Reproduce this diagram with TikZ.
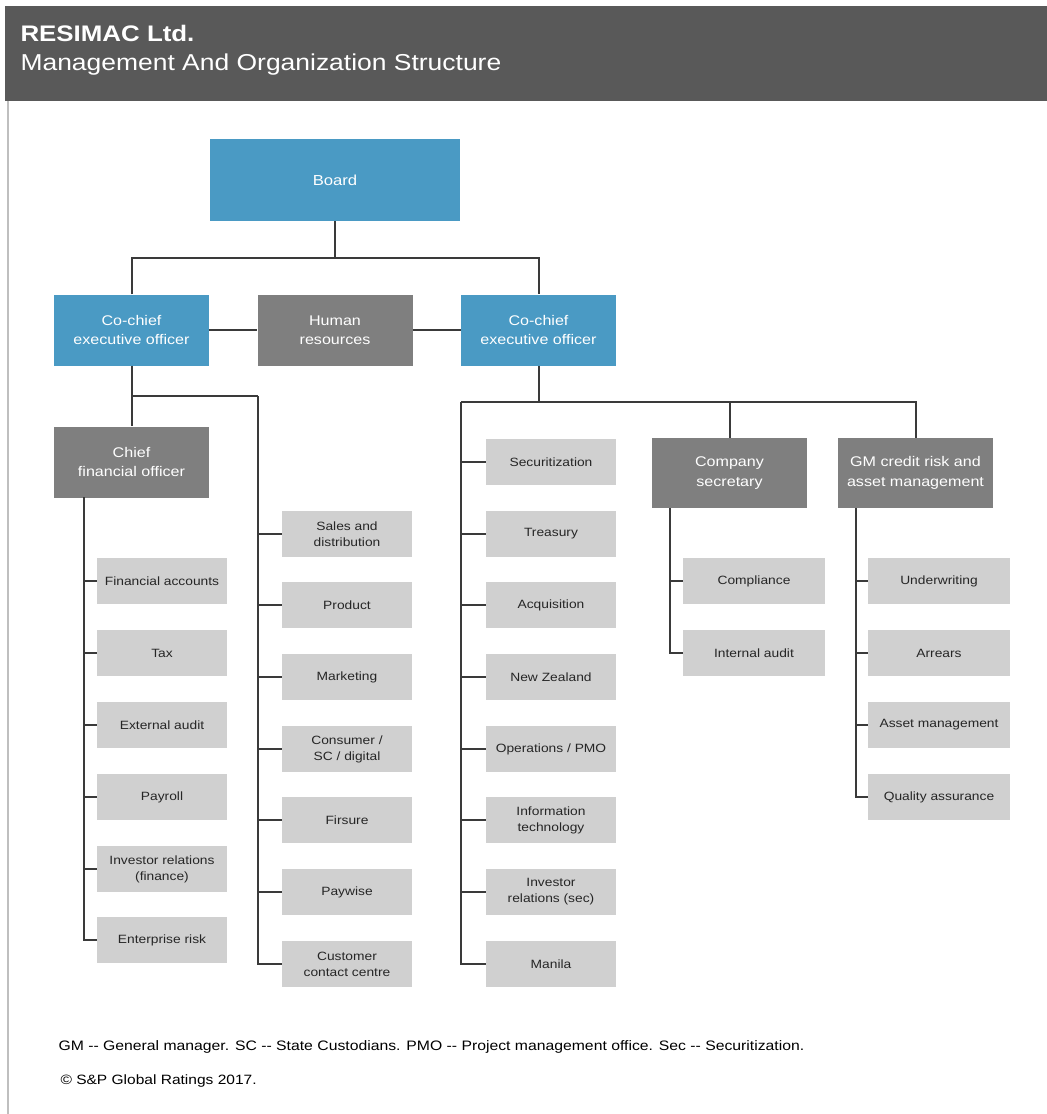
\documentclass[tikz,border=0pt]{standalone}
\usepackage{fontspec}
\setmainfont{Liberation Sans}[FakeStretch=1.15]

\definecolor{boardblue}{HTML}{4A9AC4}
\definecolor{darkbox}{HTML}{7F7F7F}
\definecolor{lightbox}{HTML}{D0D0D0}
\definecolor{headgray}{HTML}{595959}
\definecolor{linegray}{HTML}{3A3A3A}

\begin{document}
\begin{tikzpicture}[
    x=1pt, y=-1pt,
    topbox/.style={
        rectangle,
        fill=boardblue,
        text=white,
        align=center,
        inner sep=0pt,
        minimum width=155pt,
        minimum height=71pt,
        font=\fontsize{14}{19}\selectfont,
    },
    headbox/.style={
        topbox,
        fill=darkbox,
    },
    unitbox/.style={
        rectangle,
        fill=lightbox,
        text=black!85,
        align=center,
        inner sep=0pt,
        minimum width=130pt,
        minimum height=46pt,
        font=\fontsize{12}{16}\selectfont,
    },
    edge/.style={
        line width=2pt,
        draw=linegray
    }
]
    \useasboundingbox (0,0) rectangle (1047,1114);

    % header band
    \fill[headgray] (5,6) rectangle (1047,101);
    \draw[gray!50, line width=1.5pt] (8,101) -- (8,1114);
    \node[anchor=west, text=white, font=\bfseries\fontsize{22.5}{26}\selectfont] (title) at (17,33) {RESIMAC Ltd.};
    \node[anchor=west, text=white, font=\fontsize{23}{26}\selectfont] (subtitle) at (17,65) {Management And Organization Structure};

    % top levels
    \node[topbox, minimum width=250pt, minimum height=82pt, font=\fontsize{14.5}{18}\selectfont] (board) at (335,180) {Board};

    \node[topbox] (ceoL) at (131.5,330) {Co-chief\\executive officer};
    \node[headbox] (hr) at (335,330) {Human\\resources};
    \node[topbox] (ceoR) at (538.5,330) {Co-chief\\executive officer};

    \node[headbox] (cfo) at (131.5,462) {Chief\\financial officer};
    \node[headbox, minimum height=70pt, font=\fontsize{14}{20}\selectfont] (cosec) at (729.5,473) {Company\\secretary};
    \node[headbox, minimum height=70pt, font=\fontsize{14}{20}\selectfont] (gm) at (915.5,473) {GM credit risk and\\asset management};

    % finance units
    \node[unitbox] (fin) at (162,581) {Financial accounts};
    \node[unitbox] (tax) at (162,653) {Tax};
    \node[unitbox] (extaudit) at (162,725) {External audit};
    \node[unitbox] (payroll) at (162,797) {Payroll};
    \node[unitbox] (irfin) at (162,869) {Investor relations\\(finance)};
    \node[unitbox] (erisk) at (162,940) {Enterprise risk};

    % sales units
    \node[unitbox] (sales) at (347,534) {Sales and\\distribution};
    \node[unitbox] (product) at (347,605) {Product};
    \node[unitbox] (marketing) at (347,677) {Marketing};
    \node[unitbox] (consumer) at (347,749) {Consumer /\\SC / digital};
    \node[unitbox] (firsure) at (347,820) {Firsure};
    \node[unitbox] (paywise) at (347,892) {Paywise};
    \node[unitbox] (contact) at (347,964) {Customer\\contact centre};

    % operations units
    \node[unitbox] (secur) at (551,462) {Securitization};
    \node[unitbox] (treasury) at (551,534) {Treasury};
    \node[unitbox] (acq) at (551,605) {Acquisition};
    \node[unitbox] (nz) at (551,677) {New Zealand};
    \node[unitbox] (ops) at (551,749) {Operations / PMO};
    \node[unitbox] (it) at (551,820) {Information\\technology};
    \node[unitbox] (irsec) at (551,892) {Investor\\relations (sec)};
    \node[unitbox] (manila) at (551,964) {Manila};

    % secretary units
    \node[unitbox, minimum width=142pt] (compl) at (754,581) {Compliance};
    \node[unitbox, minimum width=142pt] (intaudit) at (754,653) {Internal audit};

    % credit units
    \node[unitbox, minimum width=142pt] (uw) at (939,581) {Underwriting};
    \node[unitbox, minimum width=142pt] (arrears) at (939,653) {Arrears};
    \node[unitbox, minimum width=142pt] (assetmgmt) at (939,725) {Asset management};
    \node[unitbox, minimum width=142pt] (qa) at (939,797) {Quality assurance};

    % junctions
    \coordinate (boardjoin) at (335,258);
    \coordinate (salesbus) at (258,396);
    \coordinate (finbus) at (84,497);
    \coordinate (opsbus) at (461,402);
    \coordinate (cosbus) at (670,508);
    \coordinate (gmbus) at (856,508);

    \draw[edge] (board) -- (boardjoin);
    \draw[edge] (ceoL.north) |- (boardjoin) -| (ceoR.north);
    \draw[edge] (ceoL) -- (hr);
    \draw[edge] (hr) -- (ceoR);

    \draw[edge] (ceoL) -- (cfo);
    \draw[edge] (ceoL.south |- salesbus) -- (salesbus);

    \draw[edge] (finbus) |- (fin.west);
    \draw[edge] (finbus) |- (tax.west);
    \draw[edge] (finbus) |- (extaudit.west);
    \draw[edge] (finbus) |- (payroll.west);
    \draw[edge] (finbus) |- (irfin.west);
    \draw[edge] (finbus) |- (erisk.west);

    \draw[edge] (salesbus) |- (sales.west);
    \draw[edge] (salesbus) |- (product.west);
    \draw[edge] (salesbus) |- (marketing.west);
    \draw[edge] (salesbus) |- (consumer.west);
    \draw[edge] (salesbus) |- (firsure.west);
    \draw[edge] (salesbus) |- (paywise.west);
    \draw[edge] (salesbus) |- (contact.west);

    \draw[edge] (ceoR.south) -- (ceoR.south |- opsbus);
    \draw[edge] (opsbus) -| (gm.north);
    \draw[edge] (cosec.north |- opsbus) -- (cosec.north);

    \draw[edge] (opsbus) |- (secur.west);
    \draw[edge] (opsbus) |- (treasury.west);
    \draw[edge] (opsbus) |- (acq.west);
    \draw[edge] (opsbus) |- (nz.west);
    \draw[edge] (opsbus) |- (ops.west);
    \draw[edge] (opsbus) |- (it.west);
    \draw[edge] (opsbus) |- (irsec.west);
    \draw[edge] (opsbus) |- (manila.west);

    \draw[edge] (cosbus) |- (compl.west);
    \draw[edge] (cosbus) |- (intaudit.west);

    \draw[edge] (gmbus) |- (uw.west);
    \draw[edge] (gmbus) |- (arrears.west);
    \draw[edge] (gmbus) |- (assetmgmt.west);
    \draw[edge] (gmbus) |- (qa.west);

    % footnotes
    \node[anchor=west, font=\fontsize{13.7}{16}\selectfont] (notes) at (55,1047) {GM -{}- General manager. SC -{}- State Custodians. PMO -{}- Project management office. Sec -{}- Securitization.};
    \node[anchor=west, font=\fontsize{13.5}{16}\selectfont] (rights) at (57,1081) {© S\&P Global Ratings 2017.};
\end{tikzpicture}
\end{document}
